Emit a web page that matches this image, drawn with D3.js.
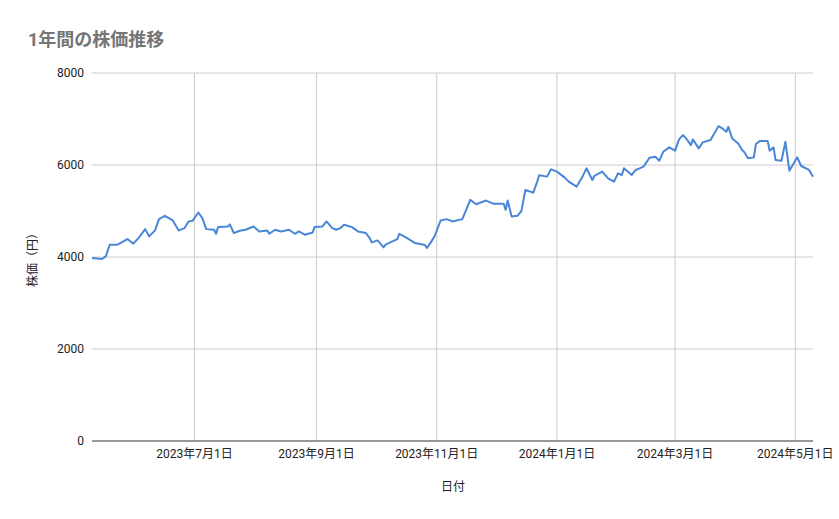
<!DOCTYPE html>
<html><head><meta charset="utf-8">
<script src="https://cdn.jsdelivr.net/npm/d3@7"></script>
<style>body{margin:0;background:#fff}svg{font-family:Roboto,"Noto Sans CJK JP",sans-serif}</style>
</head><body><svg id="chart" width="839" height="519"></svg>
<script>
// day offsets from the first date, and price in yen
const startDate = "2023-05-10";
const days = [0,5,7,9,13,15,18,21,24,27,29,32,34,37,41,44,47,49,51,54,56,58,62,63,64,69,70,72,75,78,82,85,89,90,93,96,100,103,105,108,112,113,117,119,122,124,126,128,132,135,139,141,142,145,148,149,155,156,160,164,169,170,172,174,177,180,183,188,192,195,200,204,209,210,211,213,216,218,220,224,226,227,231,233,236,240,242,246,249,251,254,255,259,262,265,267,269,270,274,276,278,280,283,286,288,290,293,296,298,300,302,304,305,308,310,314,318,320,322,323,325,328,330,331,333,336,337,339,343,344,346,347,350,352,354,358,360,364,366];
const prices = [3978,3957,4014,4267,4267,4318,4390,4289,4433,4606,4448,4578,4823,4895,4794,4578,4628,4773,4787,4967,4845,4606,4592,4505,4650,4664,4708,4520,4570,4592,4664,4556,4578,4505,4592,4556,4592,4505,4556,4484,4534,4650,4664,4773,4628,4592,4628,4700,4650,4556,4520,4412,4318,4361,4210,4267,4390,4505,4412,4303,4260,4195,4318,4462,4794,4823,4773,4823,5242,5148,5227,5155,5155,5025,5227,4881,4895,5004,5458,5400,5639,5776,5747,5906,5856,5726,5639,5531,5747,5928,5675,5762,5856,5711,5639,5819,5783,5928,5783,5892,5928,5964,6159,6181,6094,6289,6383,6311,6556,6650,6556,6433,6556,6361,6491,6542,6845,6794,6722,6830,6578,6469,6325,6289,6145,6166,6455,6520,6520,6311,6383,6108,6094,6505,5877,6166,5978,5892,5747];
const yTicks = [0,2000,4000,6000,8000];
const xTicks = ["2023-07-01","2023-09-01","2023-11-01","2024-01-01","2024-03-01","2024-05-01"];

const parse = d3.timeParse("%Y-%m-%d");
const t0 = parse(startDate);
const data = days.map((d, i) => ({date: d3.timeDay.offset(t0, d), v: prices[i]}));

const mLeft = 92, mRight = 813, mTop = 73, mBottom = 441;
const svg = d3.select("#chart");
const x = d3.scaleTime().domain([t0, d3.timeDay.offset(t0, days[days.length - 1])]).range([mLeft, mRight]);
const y = d3.scaleLinear().domain([0, 8000]).range([mBottom, mTop]);

svg.append("text").attr("x", 28).attr("y", 46).attr("fill", "#757575")
    .style("font-size", "18px").style("font-weight", "bold").text("1年間の株価推移");

// grid
svg.append("g").selectAll("line").data(xTicks).join("line")
    .attr("x1", d => x(parse(d))).attr("x2", d => x(parse(d)))
    .attr("y1", mTop).attr("y2", mBottom).attr("stroke", "#ccc");
svg.append("g").selectAll("line").data(yTicks).join("line")
    .attr("x1", mLeft).attr("x2", mRight).attr("y1", d => y(d)).attr("y2", d => y(d))
    .attr("stroke", d => d === 0 ? "#333" : "#ccc");

svg.append("g").selectAll("text").data(yTicks).join("text")
    .attr("x", 84).attr("y", d => y(d) + 4).attr("text-anchor", "end")
    .style("font-size", "12px").attr("fill", "#222").text(d => d);
const fmt = d3.timeFormat("%Y年%-m月%-d日");
svg.append("g").selectAll("text").data(xTicks).join("text")
    .attr("x", d => x(parse(d))).attr("y", 458).attr("text-anchor", "middle")
    .style("font-size", "12px").attr("fill", "#222").text(d => fmt(parse(d)));

svg.append("text").attr("x", 453).attr("y", 491).attr("text-anchor", "middle")
    .style("font-size", "12px").attr("fill", "#222").text("日付");
svg.append("text").attr("transform", "translate(37,257) rotate(-90)").attr("text-anchor", "middle")
    .style("font-size", "12px").attr("fill", "#222").text("株価（円）");

svg.append("path").datum(data)
    .attr("fill", "none").attr("stroke", "#4a86d8").attr("stroke-width", 2).attr("stroke-linejoin", "round")
    .attr("d", d3.line().x(d => x(d.date)).y(d => y(d.v)));
</script></body></html>
